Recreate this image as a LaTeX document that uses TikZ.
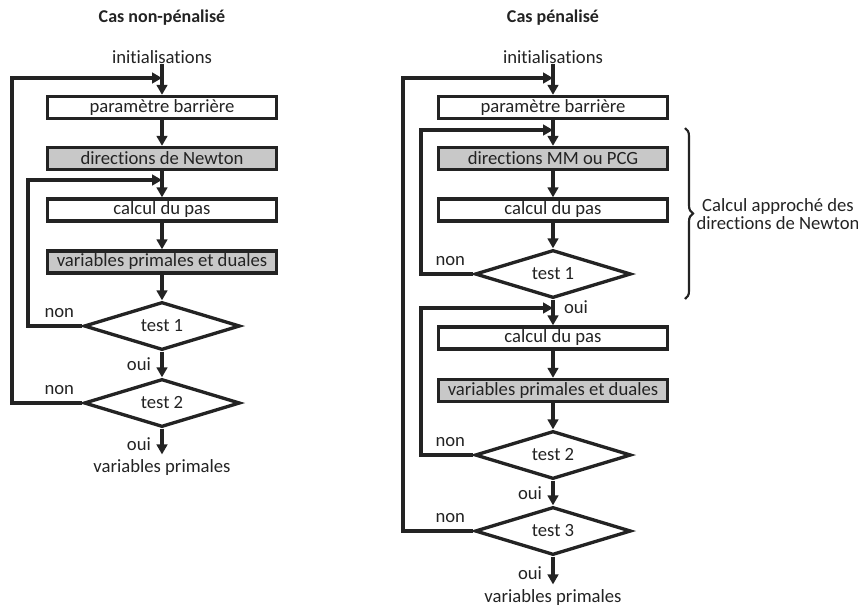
\documentclass[tikz,border=0pt]{standalone}
\usepackage{fontspec}
\setmainfont{Carlito}[Ligatures={NoCommon,NoContextual,NoRare}]
\usetikzlibrary{shapes.geometric,arrows.meta,decorations.pathreplacing}
\definecolor{ink}{RGB}{35,35,35}
\definecolor{shade}{RGB}{200,200,200}
\begin{document}
\begin{tikzpicture}[x=0.75pt,y=-0.75pt,
  every node/.style={font=\fontsize{14pt}{14pt}\selectfont, text=ink},
  box/.style={draw=ink, line width=2.5pt, minimum width=172pt, minimum height=16.5pt, inner sep=0pt, fill=white},
  graybox/.style={box, fill=shade},
  test/.style={diamond, aspect=3, draw=ink, line width=2.5pt, minimum width=117pt, minimum height=36pt, inner sep=0pt},
  conn/.style={line width=2.6pt, draw=ink},
  arr/.style={conn, -{Triangle[length=7.5pt,width=8pt]}},
  lbl/.style={inner sep=0pt},
  nonlbl/.style={inner sep=0pt, anchor=south east, xshift=-6pt, yshift=6pt},
  ouil/.style={inner sep=0pt, left=7pt, midway},
  ttl/.style={font=\bfseries\fontsize{13.5pt}{16pt}\selectfont, inner sep=0pt}
]
\useasboundingbox (0,0) rectangle (858,608);

% ---------------- left: cas non-penalise ----------------
\node[ttl] (T1) at (162,18) {Cas non-pénalisé};
\node[lbl] (I1) at (162,57) {initialisations};
\coordinate (J1) at (162,78);
\node[box] (L1) at (162,107.5) {paramètre barrière};
\node[graybox] (L2) at (162,158.5) {directions de Newton};
\coordinate (J2) at (162,180);
\node[box] (L3) at (162,210) {calcul du pas};
\node[graybox] (L4) at (162,262) {variables primales et duales};
\node[test] (LT1) at (162,326) {test 1};
\node[test] (LT2) at (162,403) {test 2};
\node[lbl] (LO) at (162,468) {variables primales};
\coordinate (LXo) at (12,0);
\coordinate (LXi) at (28,0);

\draw[arr] (I1) -- (L1);
\draw[arr] (L1) -- (L2);
\draw[arr] (L2) -- (L3);
\draw[arr] (L3) -- (L4);
\draw[arr] (L4) -- (LT1);
\draw[arr] (LT1) -- node[ouil] {oui} (LT2);
\draw[arr, shorten >=4pt] (LT2) -- node[ouil] {oui} (LO);
\draw[arr] (LT1.west) -- (LT1.west -| LXi) |- (J2);
\draw[arr] (LT2.west) -- (LT2.west -| LXo) |- (J1);
\node[nonlbl] at (LT1.west) {non};
\node[nonlbl] at (LT2.west) {non};

% ---------------- right: cas penalise ----------------
\node[ttl] (T2) at (553,18) {Cas pénalisé};
\node[lbl] (I2) at (553,57) {initialisations};
\coordinate (K1) at (553,78);
\node[box] (R1) at (553,107.5) {paramètre barrière};
\coordinate (K2) at (553,130);
\node[graybox] (R2) at (553,158.5) {directions MM ou PCG};
\node[box] (R3) at (553,210) {calcul du pas};
\node[test] (RT1) at (553,274) {test 1};
\coordinate (K3) at (553,308);
\node[box] (R4) at (553,338) {calcul du pas};
\node[graybox] (R5) at (553,390.5) {variables primales et duales};
\node[test] (RT2) at (553,455) {test 2};
\node[test] (RT3) at (553,531) {test 3};
\node[lbl] (RO) at (553,598) {variables primales};
\coordinate (RXo) at (403,0);
\coordinate (RXi) at (421,0);

\draw[arr] (I2) -- (R1);
\draw[arr] (R1) -- (R2);
\draw[arr] (R2) -- (R3);
\draw[arr] (R3) -- (RT1);
\draw[arr] (RT1) -- node[inner sep=0pt, right=7pt, pos=0.3] {oui} (R4);
\draw[arr] (R4) -- (R5);
\draw[arr] (R5) -- (RT2);
\draw[arr] (RT2) -- node[ouil] {oui} (RT3);
\draw[arr, shorten >=4pt] (RT3) -- node[ouil] {oui} (RO);
\draw[arr] (RT1.west) -- (RT1.west -| RXi) |- (K2);
\draw[arr] (RT2.west) -- (RT2.west -| RXi) |- (K3);
\draw[arr] (RT3.west) -- (RT3.west -| RXo) |- (K1);
\node[nonlbl] at (RT1.west) {non};
\node[nonlbl] at (RT2.west) {non};
\node[nonlbl] at (RT3.west) {non};

% brace
\coordinate (B1) at (685,128);
\coordinate (B2) at (685,299);
\draw[ink, line width=1.6pt, decorate, decoration={brace, amplitude=6pt}] (B1) -- (B2);
\node[lbl, align=center] (BL) at (778,214) {Calcul approché des\\directions de Newton};
\end{tikzpicture}
\end{document}
